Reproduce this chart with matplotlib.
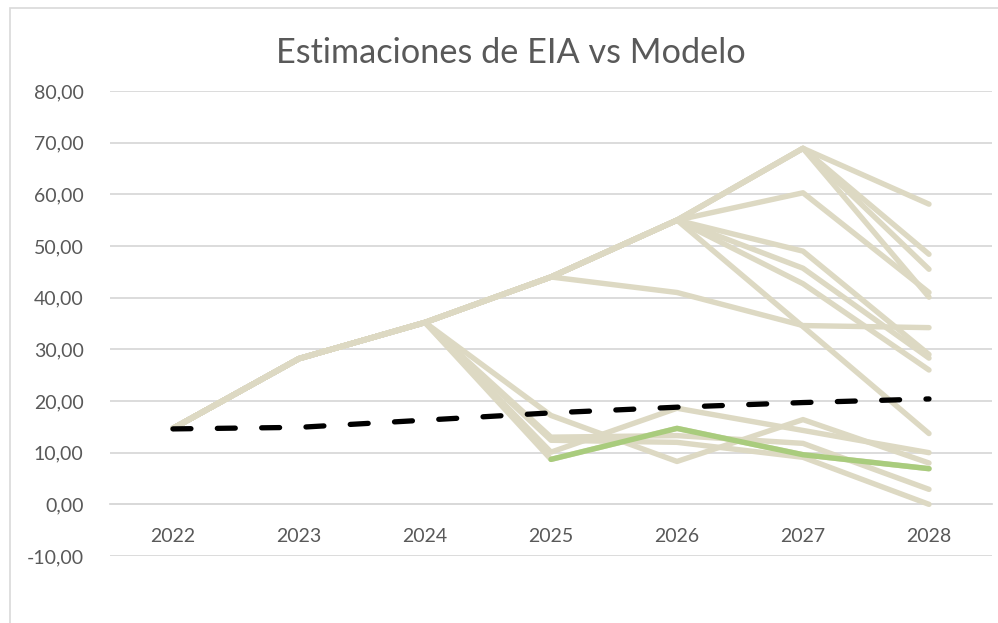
import matplotlib
matplotlib.use("Agg")
import matplotlib.pyplot as plt
from matplotlib.patches import Rectangle

plt.rcParams["font.family"] = ["Lato", "DejaVu Sans"]

# ── data ──
years = ["2022", "2023", "2024", "2025", "2026", "2027", "2028"]

# model runs (tan lines)
run_01 = [14.7, 28.2, 35.2, 44.0, 55.0, 68.9, 58.1]
run_02 = [14.7, 28.2, 35.2, 44.0, 55.0, 68.9, 48.4]
run_03 = [14.7, 28.2, 35.2, 44.0, 55.0, 68.9, 45.5]
run_04 = [14.7, 28.2, 35.2, 44.0, 55.0, 68.9, 40.1]
run_05 = [14.7, 28.2, 35.2, 44.0, 55.0, 60.3, 41.0]
run_06 = [14.7, 28.2, 35.2, 44.0, 55.0, 49.0, 29.0]
run_07 = [14.7, 28.2, 35.2, 44.0, 55.0, 45.7, 28.3]
run_08 = [14.7, 28.2, 35.2, 44.0, 55.0, 42.7, 26.0]
run_09 = [14.7, 28.2, 35.2, 44.0, 55.0, 34.4, 13.7]
run_10 = [14.7, 28.2, 35.2, 44.0, 41.0, 34.6, 34.2]
run_11 = [14.7, 28.2, 35.2, 17.2, 8.3, 16.4, 8.0]
run_12 = [14.7, 28.2, 35.2, 10.1, 18.6, 14.3, 10.0]
run_13 = [14.7, 28.2, 35.2, 13.0, 13.3, 11.8, 2.9]
run_14 = [14.7, 28.2, 35.2, 12.4, 12.0, 9.1, 0.0]
run_15 = [14.7, 28.2, 35.2, 8.7, 14.7, 9.6, 6.9]
runs = [run_01, run_02, run_03, run_04, run_05, run_06, run_07,
        run_08, run_09, run_10, run_11, run_12, run_13, run_14, run_15]

# highlighted run (green), only shown from 2025
green_run = [None, None, None, 8.7, 14.7, 9.6, 6.9]

# EIA estimate (black dashed)
eia = [14.6, 14.9, 16.3, 17.7, 18.8, 19.7, 20.4]

yticks = [-10, 0, 10, 20, 30, 40, 50, 60, 70, 80]

TAN = "#DDD9C3"
GREEN = "#A9CC7D"
GRID = "#D9D9D9"
TXT = "#595959"

fig = plt.figure(figsize=(9.98, 6.23), dpi=100)
ax = fig.add_axes([110 / 998, 1 - 556 / 623, 882 / 998, 465 / 623])

x = list(range(len(years)))

for r in runs:
    ax.plot(x, r, color=TAN, lw=3.9, solid_capstyle="round",
            solid_joinstyle="round", zorder=3)
gx = [i for i, v in zip(x, green_run) if v is not None]
gy = [v for v in green_run if v is not None]
ax.plot(gx, gy, color=GREEN, lw=3.9, solid_capstyle="round",
        solid_joinstyle="round", zorder=4)
ax.plot(x, eia, color="black", lw=3.8, linestyle=(0, (3.4, 5.0)),
        dash_capstyle="round", zorder=5)

ax.set_xlim(-0.5, len(years) - 0.5)
ax.set_ylim(-10, 80)
ax.set_yticks(yticks)
ax.set_yticklabels([f"{v:.2f}".replace(".", ",") for v in yticks])
ax.set_xticks(x)
ax.set_xticklabels(years)
ax.tick_params(axis="both", length=0, labelsize=14, labelcolor=TXT)
ax.tick_params(axis="y", pad=19)
ax.tick_params(axis="x", pad=17)
ax.grid(axis="y", color=GRID, lw=1.3)
ax.set_axisbelow(True)
for s in ["top", "right", "left"]:
    ax.spines[s].set_visible(False)
ax.spines["bottom"].set_position(("data", 0))
ax.spines["bottom"].set_color(GRID)
ax.spines["bottom"].set_linewidth(1.3)

fig.text(0.5115, 1 - 53 / 623, "Estimaciones de EIA vs Modelo", ha="center",
         va="center", fontsize=24.7, color=TXT)

fig.patches.append(Rectangle((9.5 / 998, -0.1), 1.2, 1.1 - 8.5 / 623,
                             transform=fig.transFigure, fill=False,
                             edgecolor=GRID, lw=1.2))

fig.savefig("out.png", dpi=100)
